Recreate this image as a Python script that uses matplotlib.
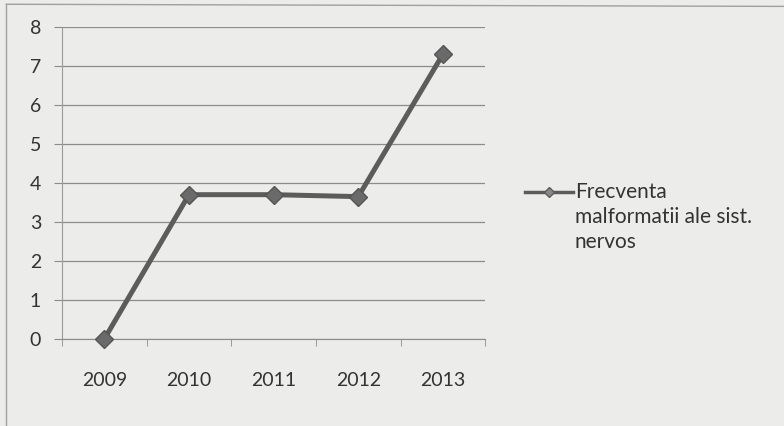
import matplotlib.pyplot as plt
import numpy as np

# data
years = ['2009', '2010', '2011', '2012', '2013']
frecventa = [0, 3.7, 3.7, 3.65, 7.3]
y_ticks = [0, 1, 2, 3, 4, 5, 6, 7, 8]
legend_label = 'Frecventa\nmalformatii ale sist.\nnervos'

plt.rcParams['font.family'] = ['Lato', 'DejaVu Sans']

fig = plt.figure(figsize=(7.84, 4.26), dpi=100)
fig.patch.set_facecolor('#ececea')
ax = fig.add_axes([0.079, 0.204, 0.54, 0.733])
ax.set_facecolor('#ececea')

x = np.arange(len(years))
ax.plot(x, frecventa, color='#5c5c5c', lw=3.6, marker='D', ms=9,
        markerfacecolor='#6a6a6a', markeredgecolor='#555555', clip_on=False, zorder=5)

ax.set_xlim(-0.5, len(years) - 0.5)
ax.set_ylim(0, 8)
ax.set_yticks(y_ticks)
ax.set_xticks(x)
ax.set_xticklabels(years)
ax.set_xticks(np.arange(-0.5, len(years)), minor=True)

ax.grid(axis='y', color='#8c8c8c', lw=0.9)
ax.set_axisbelow(True)
for side in ['top', 'right']:
    ax.spines[side].set_visible(False)
ax.spines['left'].set_color('#9a9a9a')
ax.spines['bottom'].set_color('#8c8c8c')

ax.tick_params(axis='y', length=6, color='#8c8c8c', labelsize=14, pad=9, labelcolor='#333333')
ax.tick_params(axis='x', which='major', length=0, labelsize=14, pad=24, labelcolor='#333333')
ax.tick_params(axis='x', which='minor', length=5, color='#8c8c8c', direction='out')

# legend drawn by hand: handle next to the first text line
fig.add_artist(plt.Line2D([0.670, 0.731], [0.549, 0.549], transform=fig.transFigure,
                          color='#5c5c5c', lw=2.5))
fig.add_artist(plt.Line2D([0.700], [0.549], transform=fig.transFigure, marker='D', ms=5,
                          color='#5c5c5c', markerfacecolor='#888888'))
fig.text(0.733, 0.572, legend_label, fontsize=15, va='top', ha='left',
         color='#333333', linespacing=1.3)

# outer chart frame from the scan
fig.add_artist(plt.Line2D([0.008, 0.008], [0.0, 0.99], transform=fig.transFigure, color='#a0a0a0', lw=1))
fig.add_artist(plt.Line2D([0.008, 1.0], [0.99, 0.985], transform=fig.transFigure, color='#a0a0a0', lw=1))

fig.savefig('out.png', dpi=100, facecolor=fig.get_facecolor())
